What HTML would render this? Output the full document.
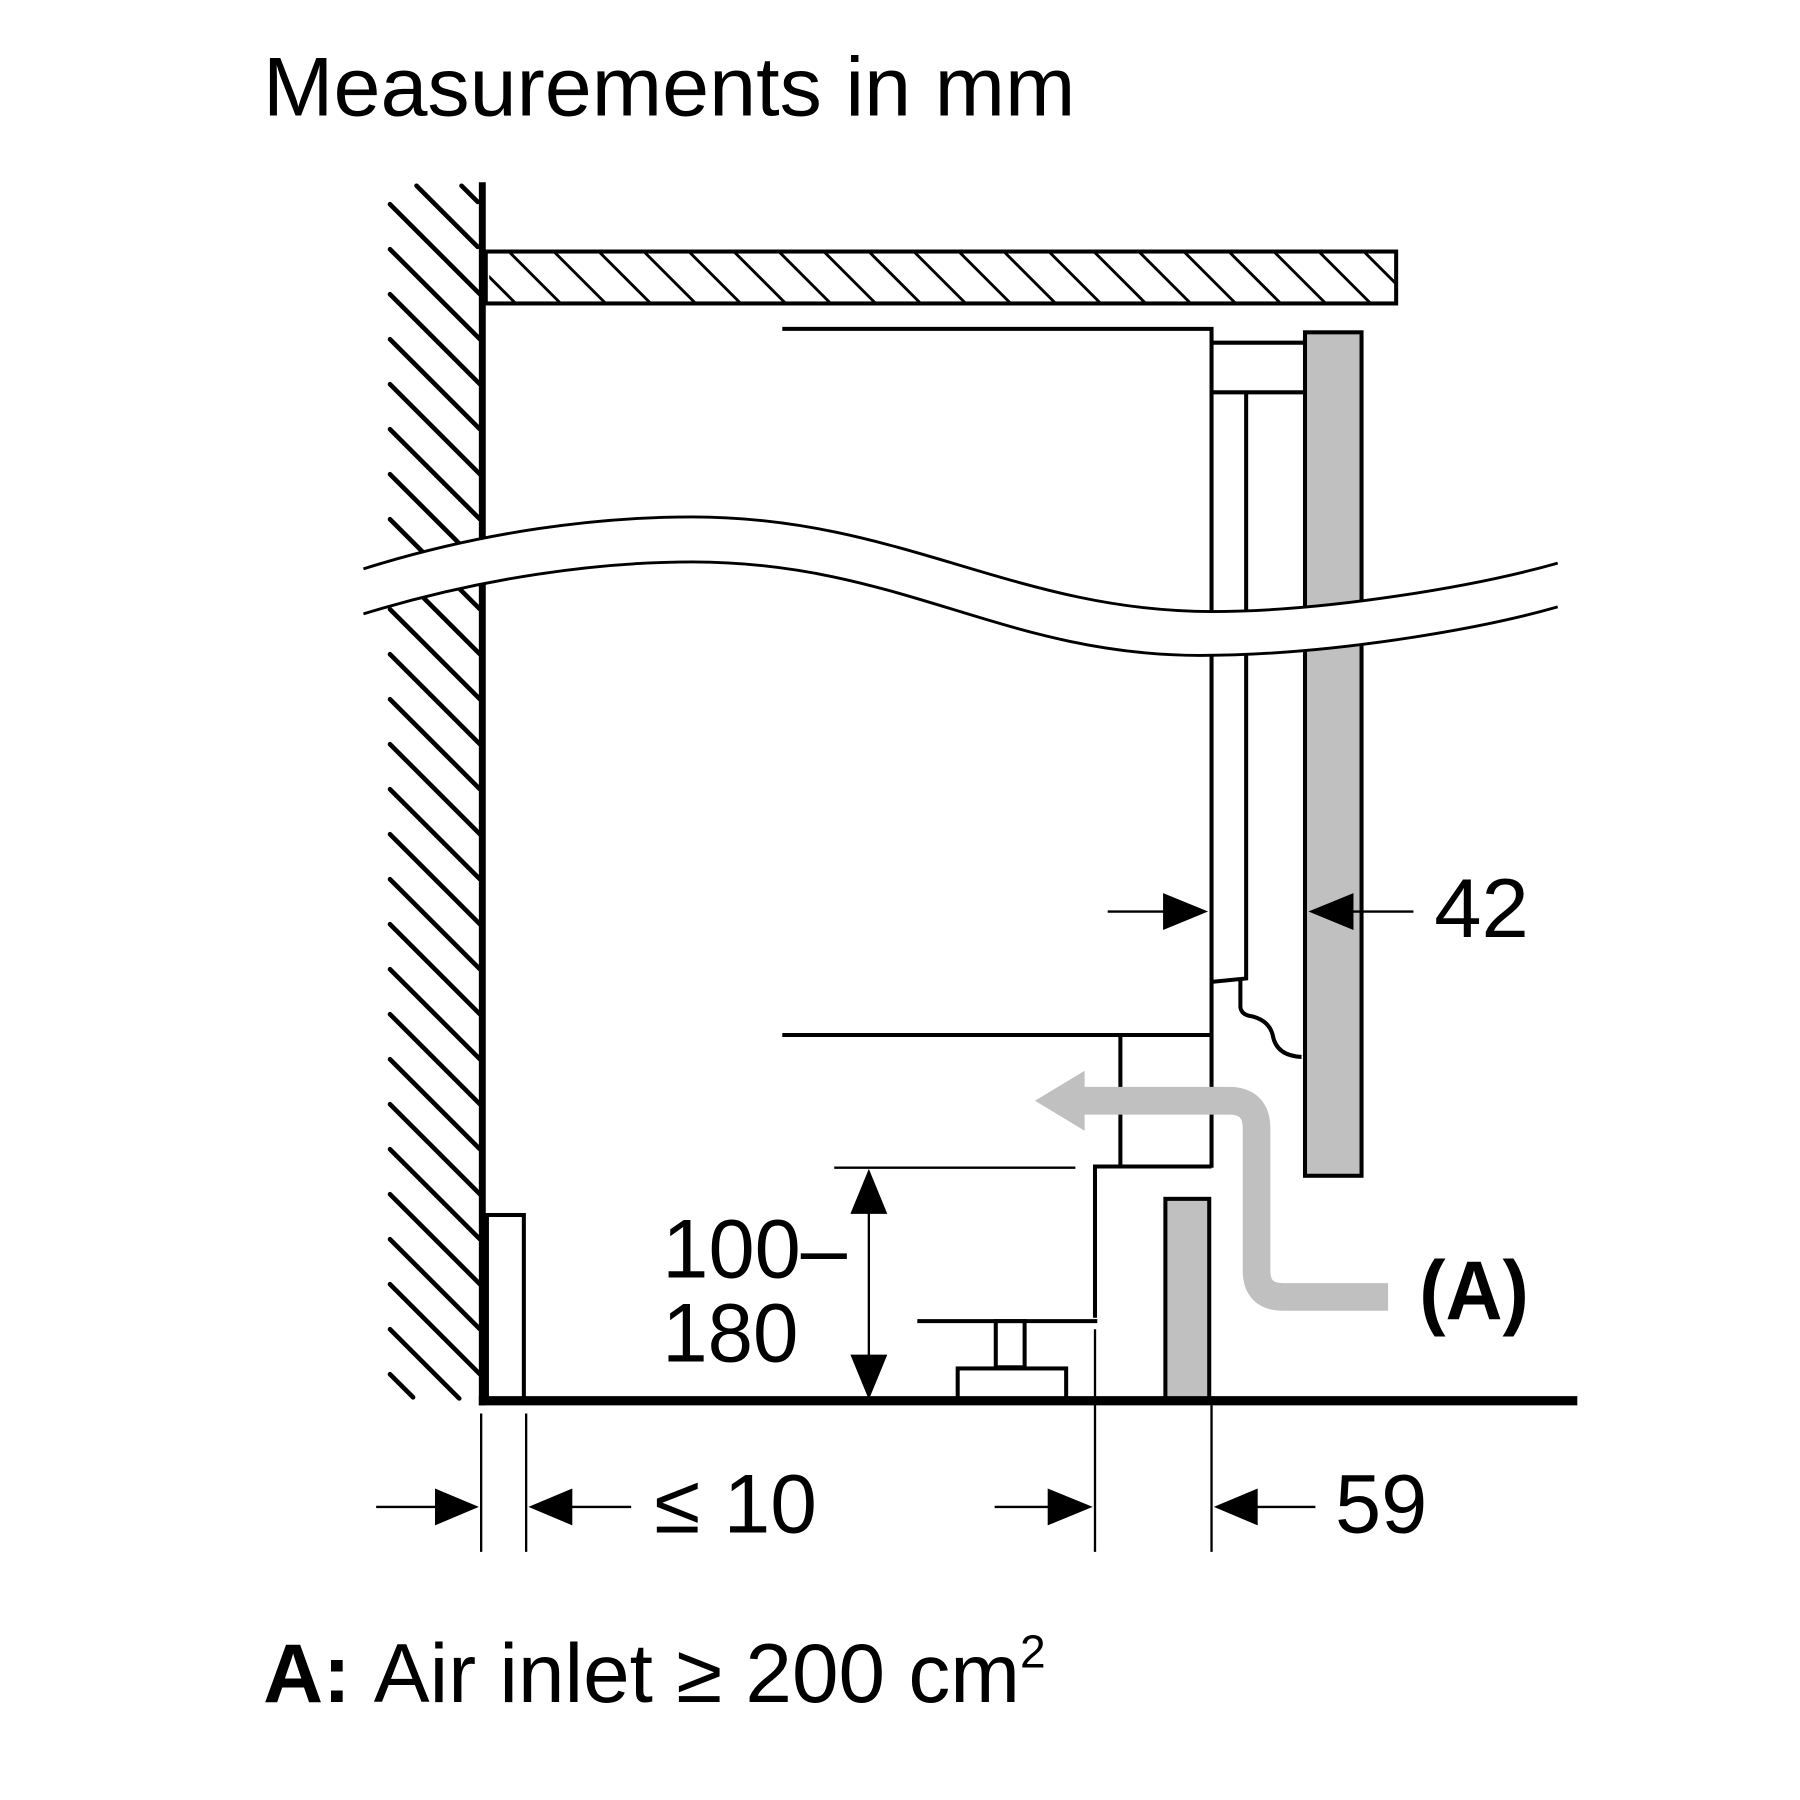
<!DOCTYPE html>
<html><head><meta charset="utf-8"><style>html,body{margin:0;padding:0;background:#fff}svg{display:block}</style></head>
<body>
<svg width="1800" height="1800" viewBox="0 0 1560 1560" xmlns="http://www.w3.org/2000/svg" font-family="'Liberation Sans', sans-serif">
<defs>
<clipPath id="wc"><rect x="330" y="158" width="86" height="1056"/></clipPath>
<clipPath id="tc"><rect x="424" y="218" width="786" height="45"/></clipPath>
</defs>
<text x="228" y="100" font-size="72" textLength="704" lengthAdjust="spacingAndGlyphs">Measurements in mm</text>
<!-- wall hatch -->
<g clip-path="url(#wc)" stroke="#000" stroke-width="4" stroke-linecap="round">
<path d="M338 177 L416 255 M338 216 L416 294 M338 255 L416 333 M338 294 L416 372 M338 333 L416 411 M338 372 L416 450 M338 411 L416 489 M338 450 L416 528 M338 489 L416 567 M338 528 L416 606 M338 567 L416 645 M338 606 L416 684 M338 645 L416 723 M338 684 L416 762 M338 723 L416 801 M338 762 L416 840 M338 801 L416 879 M338 840 L416 918 M338 879 L416 957 M338 918 L416 996 M338 957 L416 1035 M338 996 L416 1074 M338 1035 L416 1113 M338 1074 L416 1152 M338 1113 L416 1191 M338 1152 L398 1212 M338 1191 L358 1211 M361 161 L414 214 M400 161 L414 175"/>
</g>
<line x1="418" y1="158" x2="418" y2="1218" stroke="#000" stroke-width="6"/>
<!-- countertop -->
<g clip-path="url(#tc)" stroke="#000" stroke-width="2.5">
<path d="M363 218 l45 45 M402 218 l45 45 M441 218 l45 45 M480 218 l45 45 M519 218 l45 45 M558 218 l45 45 M597 218 l45 45 M636 218 l45 45 M675 218 l45 45 M714 218 l45 45 M753 218 l45 45 M792 218 l45 45 M831 218 l45 45 M870 218 l45 45 M909 218 l45 45 M948 218 l45 45 M987 218 l45 45 M1026 218 l45 45 M1065 218 l45 45 M1104 218 l45 45 M1143 218 l45 45 M1182 218 l45 45"/>
</g>
<rect x="421" y="218" width="789" height="45" fill="none" stroke="#000" stroke-width="3.5"/>
<!-- appliance -->
<g stroke="#000" stroke-width="3.5" fill="none">
<path d="M678 285 H1050 V1012"/>
<path d="M1050 297 H1132 M1050 340 H1132"/>
<path d="M1080 340 V848 L1050 851"/>
<path d="M1075 848 V873 Q1076 880 1086 881 Q1100 885 1103 897 Q1106 915 1128 916"/>
<path d="M678 897 H1050"/>
<path d="M971 897 V1011"/>
<path d="M949 1142 V1011 H1050"/>
<path d="M795 1145 H951"/>
<path d="M723 1012 H932" stroke-width="2"/>
<rect x="863" y="1145" width="25" height="40" fill="#fff"/>
<rect x="830" y="1186" width="94" height="28" fill="#fff"/>
<rect x="422" y="1053" width="32" height="161"/>
</g>
<rect x="1131" y="288" width="49" height="731" fill="#c0c0c0" stroke="#000" stroke-width="3.5"/>
<rect x="1010" y="1039" width="38" height="175" fill="#c0c0c0" stroke="#000" stroke-width="3.5"/>
<!-- wave break -->
<path d="M315 493 C420 460 520 448 600 448 C780 448 880 530 1050 530 C1150 530 1280 508 1350 488 L1350 526 C1280 546 1150 568 1040 568 C870 568 780 487 600 487 C520 487 420 500 315 532 Z" fill="#fff" stroke="none"/>
<path d="M315 493 C420 460 520 448 600 448 C780 448 880 530 1050 530 C1150 530 1280 508 1350 488" fill="none" stroke="#000" stroke-width="2.5"/>
<path d="M315 532 C420 500 520 487 600 487 C780 487 870 568 1040 568 C1150 568 1280 546 1350 526" fill="none" stroke="#000" stroke-width="2.5"/>
<!-- ground -->
<line x1="415" y1="1214" x2="1367" y2="1214" stroke="#000" stroke-width="8"/>
<!-- air arrow -->
<path d="M1203 1124 H1112 Q1089 1124 1089 1101 V978 Q1089 954 1065 954 H935" fill="none" stroke="#c0c0c0" stroke-width="24"/>
<polygon points="897,954 940,928 940,980" fill="#c0c0c0"/>
<text x="1230" y="1143" font-size="72" font-weight="bold" textLength="95" lengthAdjust="spacingAndGlyphs">(A)</text>
<!-- 42 dim -->
<g stroke="#000" stroke-width="2">
<line x1="960" y1="790" x2="1010" y2="790"/>
<line x1="1170" y1="790" x2="1225" y2="790"/>
</g>
<polygon points="1047,790 1008,774 1008,806"/>
<polygon points="1134,790 1173,774 1173,806"/>
<text x="1243" y="812" font-size="72" textLength="82" lengthAdjust="spacingAndGlyphs">42</text>
<!-- 100-180 -->
<line x1="753" y1="1050" x2="753" y2="1180" stroke="#000" stroke-width="2"/>
<polygon points="753,1013 737,1052 769,1052"/>
<polygon points="753,1213 737,1174 769,1174"/>
<text x="574" y="1107" font-size="72" textLength="160" lengthAdjust="spacingAndGlyphs">100–</text>
<text x="574" y="1180" font-size="72" textLength="118" lengthAdjust="spacingAndGlyphs">180</text>
<!-- bottom dims -->
<g stroke="#000" stroke-width="2">
<line x1="417" y1="1225" x2="417" y2="1345"/>
<line x1="456" y1="1225" x2="456" y2="1345"/>
<line x1="949" y1="1152" x2="949" y2="1345"/>
<line x1="1050" y1="1218" x2="1050" y2="1345"/>
<line x1="326" y1="1306" x2="380" y2="1306"/>
<line x1="494" y1="1306" x2="547" y2="1306"/>
<line x1="862" y1="1306" x2="910" y2="1306"/>
<line x1="1088" y1="1306" x2="1140" y2="1306"/>
</g>
<polygon points="415,1306 377,1290 377,1322"/>
<polygon points="458,1306 496,1290 496,1322"/>
<polygon points="947,1306 908,1290 908,1322"/>
<polygon points="1052,1306 1090,1290 1090,1322"/>
<text x="567" y="1328" font-size="72" textLength="141" lengthAdjust="spacingAndGlyphs">≤ 10</text>
<text x="1157" y="1328" font-size="72" textLength="80" lengthAdjust="spacingAndGlyphs">59</text>
<text x="228" y="1475" font-size="72"><tspan font-weight="bold">A:</tspan> <tspan textLength="560" lengthAdjust="spacingAndGlyphs">Air inlet ≥ 200 cm</tspan><tspan font-size="40" dy="-30">2</tspan></text>
</svg>
</body></html>
